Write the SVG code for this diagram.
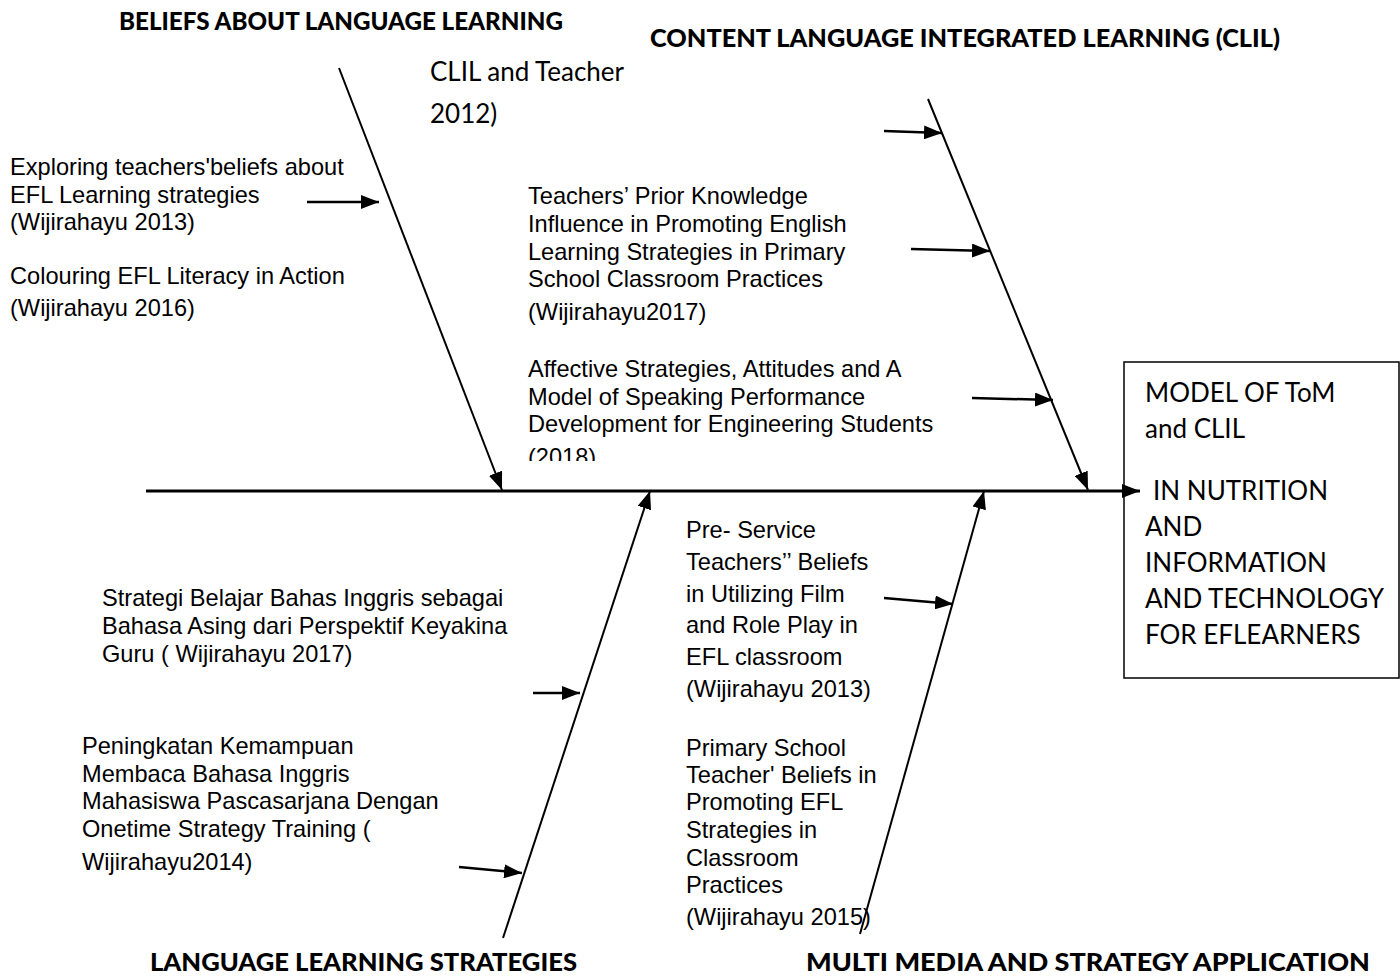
<svg xmlns="http://www.w3.org/2000/svg" width="1400" height="979" viewBox="0 0 1400 979">
  <style>
    .body { font-family: "Liberation Sans", Arial, sans-serif; font-size: 23.6px; fill: #000; }
    .cal { font-family: Lato, "Open Sans", sans-serif; font-size: 26px; fill: #000; }
    .title { font-family: Lato, "Open Sans", sans-serif; font-size: 25px; font-weight: 900; fill: #000; }
    .bone { stroke: #000; stroke-width: 2; fill: none; }
    .spine { stroke: #000; stroke-width: 3; fill: none; }
    .small { stroke: #000; stroke-width: 2.5; fill: none; }
  </style>
  <defs>
    <marker id="ah" viewBox="0 0 18 14" refX="18" refY="7" markerWidth="18" markerHeight="14" markerUnits="userSpaceOnUse" orient="auto">
      <path d="M0,0 L18,7 L0,14 z" fill="#000"/>
    </marker>
    <clipPath id="clip2018">
      <rect x="500" y="440" width="300" height="21"/>
    </clipPath>
  </defs>
  <rect width="1400" height="979" fill="#fff"/>

  <g id="connectors">
    <line class="spine" x1="146" y1="491" x2="1140" y2="491" marker-end="url(#ah)"/>
    <line class="bone" x1="339" y1="68" x2="502" y2="490" marker-end="url(#ah)"/>
    <line class="bone" x1="928" y1="99" x2="1088" y2="490" marker-end="url(#ah)"/>
    <line class="bone" x1="503" y1="938" x2="650" y2="491" marker-end="url(#ah)"/>
    <line class="bone" x1="860" y1="934" x2="984" y2="491" marker-end="url(#ah)"/>
    <line class="small" x1="307" y1="202" x2="379" y2="202" marker-end="url(#ah)"/>
    <line class="small" x1="884" y1="131" x2="942" y2="133" marker-end="url(#ah)"/>
    <line class="small" x1="911" y1="249" x2="990" y2="251" marker-end="url(#ah)"/>
    <line class="small" x1="972" y1="398" x2="1053" y2="400" marker-end="url(#ah)"/>
    <line class="small" x1="533" y1="693" x2="580" y2="693" marker-end="url(#ah)"/>
    <line class="small" x1="459" y1="867" x2="522" y2="873" marker-end="url(#ah)"/>
    <line class="small" x1="884" y1="598" x2="953" y2="604" marker-end="url(#ah)"/>
  </g>

  <g id="title-beliefs">
    <text class="title" x="119" y="30" textLength="444" lengthAdjust="spacingAndGlyphs">BELIEFS ABOUT LANGUAGE LEARNING</text>
  </g>
  <g id="title-clil">
    <text class="title" x="650" y="47" textLength="630" lengthAdjust="spacingAndGlyphs">CONTENT LANGUAGE INTEGRATED LEARNING (CLIL)</text>
  </g>
  <g id="title-lls">
    <text class="title" x="150" y="971" textLength="427" lengthAdjust="spacingAndGlyphs">LANGUAGE LEARNING STRATEGIES</text>
  </g>
  <g id="title-mm">
    <text class="title" x="806" y="971" textLength="564" lengthAdjust="spacingAndGlyphs">MULTI MEDIA AND STRATEGY APPLICATION</text>
  </g>

  <g id="clil-teacher">
    <text class="cal" x="430" y="81">CLIL and Teacher</text>
    <text class="cal" x="430" y="123">2012)</text>
  </g>

  <g id="exploring">
    <text class="body" x="10" y="175">Exploring teachers'beliefs about</text>
    <text class="body" x="10" y="203">EFL Learning strategies</text>
    <text class="body" x="10" y="230">(Wijirahayu 2013)</text>
  </g>
  <g id="colouring">
    <text class="body" x="10" y="284">Colouring EFL Literacy in Action</text>
    <text class="body" x="10" y="316">(Wijirahayu 2016)</text>
  </g>

  <g id="prior-knowledge">
    <text class="body" x="528" y="204">Teachers’ Prior Knowledge</text>
    <text class="body" x="528" y="232">Influence in Promoting English</text>
    <text class="body" x="528" y="260">Learning Strategies in Primary</text>
    <text class="body" x="528" y="287">School Classroom Practices</text>
    <text class="body" x="528" y="320">(Wijirahayu2017)</text>
  </g>
  <g id="affective">
    <text class="body" x="528" y="377">Affective Strategies, Attitudes and A</text>
    <text class="body" x="528" y="405">Model of Speaking Performance</text>
    <text class="body" x="528" y="432">Development for Engineering Students</text>
    <text class="body" x="528" y="465" clip-path="url(#clip2018)">(2018)</text>
  </g>

  <g id="model-box">
    <rect x="1124" y="362" width="275" height="316" fill="none" stroke="#000" stroke-width="1.5"/>
    <text class="cal" x="1145" y="402">MODEL OF ToM</text>
    <text class="cal" x="1145" y="438">and CLIL</text>
    <text class="cal" x="1153" y="500">IN NUTRITION</text>
    <text class="cal" x="1145" y="536">AND</text>
    <text class="cal" x="1145" y="572">INFORMATION</text>
    <text class="cal" x="1145" y="608">AND TECHNOLOGY</text>
    <text class="cal" x="1145" y="644">FOR EFLEARNERS</text>
  </g>

  <g id="strategi">
    <text class="body" x="102" y="606">Strategi Belajar Bahas Inggris sebagai</text>
    <text class="body" x="102" y="634">Bahasa Asing dari Perspektif Keyakina</text>
    <text class="body" x="102" y="662">Guru ( Wijirahayu 2017)</text>
  </g>
  <g id="peningkatan">
    <text class="body" x="82" y="754">Peningkatan Kemampuan</text>
    <text class="body" x="82" y="782">Membaca Bahasa Inggris</text>
    <text class="body" x="82" y="809">Mahasiswa Pascasarjana Dengan</text>
    <text class="body" x="82" y="837">Onetime Strategy Training (</text>
    <text class="body" x="82" y="870">Wijirahayu2014)</text>
  </g>

  <g id="pre-service">
    <text class="body" x="686" y="538">Pre- Service</text>
    <text class="body" x="686" y="570">Teachers’’ Beliefs</text>
    <text class="body" x="686" y="602">in Utilizing Film</text>
    <text class="body" x="686" y="633">and Role Play in</text>
    <text class="body" x="686" y="665">EFL classroom</text>
    <text class="body" x="686" y="697">(Wijirahayu 2013)</text>
  </g>
  <g id="primary-school">
    <text class="body" x="686" y="756">Primary School</text>
    <text class="body" x="686" y="783">Teacher' Beliefs in</text>
    <text class="body" x="686" y="810">Promoting EFL</text>
    <text class="body" x="686" y="838">Strategies in</text>
    <text class="body" x="686" y="866">Classroom</text>
    <text class="body" x="686" y="893">Practices</text>
    <text class="body" x="686" y="925">(Wijirahayu 2015)</text>
  </g>
</svg>
